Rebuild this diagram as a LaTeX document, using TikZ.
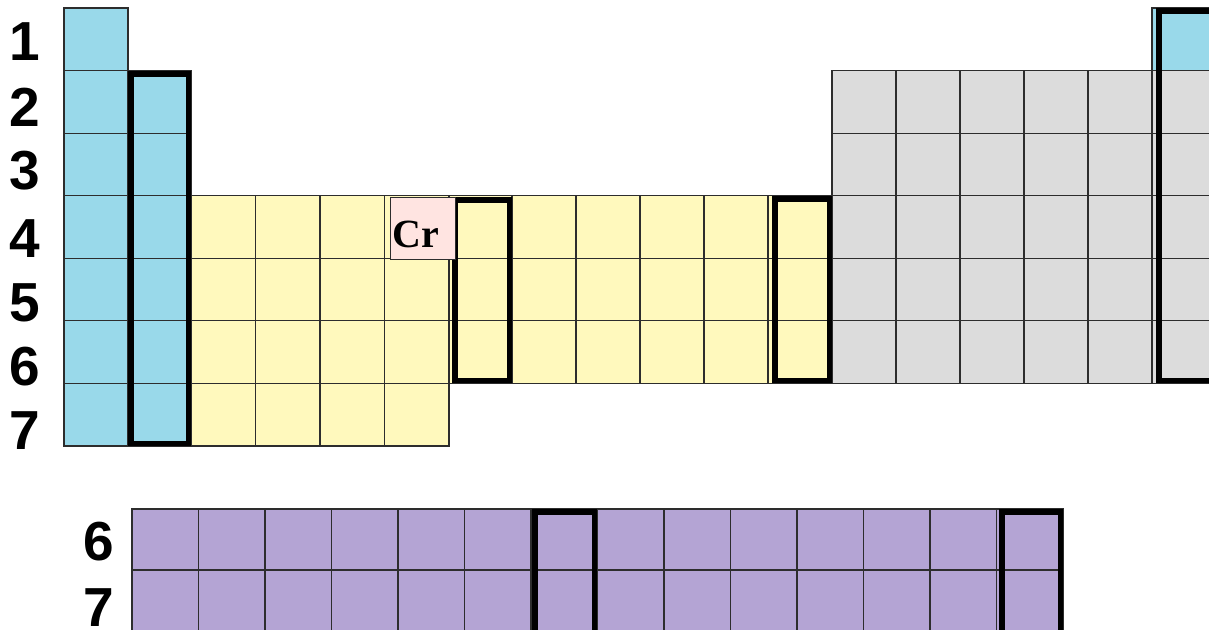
\documentclass[tikz,border=0pt]{standalone}
\usepackage{fontspec}
\setmainfont{Liberation Serif}
\newfontfamily\labfont{Liberation Sans}
\definecolor{sblue}{RGB}{153,217,234}
\definecolor{dyel}{RGB}{255,249,189}
\definecolor{pgray}{RGB}{220,220,220}
\definecolor{fpurp}{RGB}{180,164,212}
\definecolor{crpink}{RGB}{255,228,225}
\definecolor{gridline}{RGB}{45,45,45}
\begin{document}
\begin{tikzpicture}[x=1pt,y=-1pt,
  cell/.style={draw=gridline, line width=1.1pt},
  heavy/.style={draw=black, line width=5.5pt},
  lab/.style={font=\labfont\bfseries\fontsize{55}{55}\selectfont, inner sep=0pt}]
\useasboundingbox (0,0) rectangle (1209,629);
\clip (0,0) rectangle (1209,629);
\def\rh{62.57}
% s-block
\foreach \r in {0,...,6} \filldraw[cell, fill=sblue] (64,8+\r*\rh) rectangle ++(64,\rh);
\foreach \r in {1,...,6} \filldraw[cell, fill=sblue] (128,8+\r*\rh) rectangle ++(63,\rh);
% d-block
\foreach \c in {0,...,3} \foreach \r in {3,...,6}
  \filldraw[cell, fill=dyel] (191+\c*64.5,8+\r*\rh) rectangle ++(64.5,\rh);
\foreach \r in {3,...,5} \filldraw[cell, fill=dyel] (449,8+\r*\rh) rectangle ++(63,\rh);
\foreach \c in {0,...,4} \foreach \r in {3,...,5}
  \filldraw[cell, fill=dyel] (512+\c*64,8+\r*\rh) rectangle ++(64,\rh);
% p-block
\foreach \c in {0,...,5} \foreach \r in {1,...,5}
  \filldraw[cell, fill=pgray] (832+\c*64,8+\r*\rh) rectangle ++(64,\rh);
\filldraw[cell, fill=sblue] (1152,8) rectangle ++(64,\rh);
% f-block
\foreach \c in {0,...,13} \foreach \r in {0,1}
  \filldraw[cell, fill=fpurp] (132+\c*66.5,509+\r*61) rectangle ++(66.5,61);
% heavy outlines
\draw[heavy] (130.75,73.75) rectangle (188.25,443.25);
\draw[heavy] (454.75,199.75) rectangle (509.25,380.25);
\draw[heavy] (774.75,198.75) rectangle (829.25,380.25);
\draw[heavy] (1158.75,10.75) rectangle (1240,380.25);
\draw[heavy] (534.75,511.75) rectangle (594.25,650);
\draw[heavy] (1001.75,511.75) rectangle (1060.25,650);
% Cr
\node[cell, fill=crpink, anchor=north west, minimum width=65pt, minimum height=61.5pt, inner sep=0pt] (cr) at (390,197) {};
\node[font=\bfseries\fontsize{40}{40}\selectfont, anchor=base west, inner sep=0pt] (crt) at (392.5,247) {Cr};
% row labels
\node[lab] (l1) at (25,42) {1};
\node[lab] (l2) at (25,107) {2};
\node[lab] (l3) at (25,171) {3};
\node[lab] (l4) at (25,239) {4};
\node[lab] (l5) at (25,303) {5};
\node[lab] (l6) at (25,367) {6};
\node[lab] (l7) at (25,431) {7};
\node[lab] (f6) at (99,542) {6};
\node[lab] (f7) at (99,608) {7};
\end{tikzpicture}
\end{document}
